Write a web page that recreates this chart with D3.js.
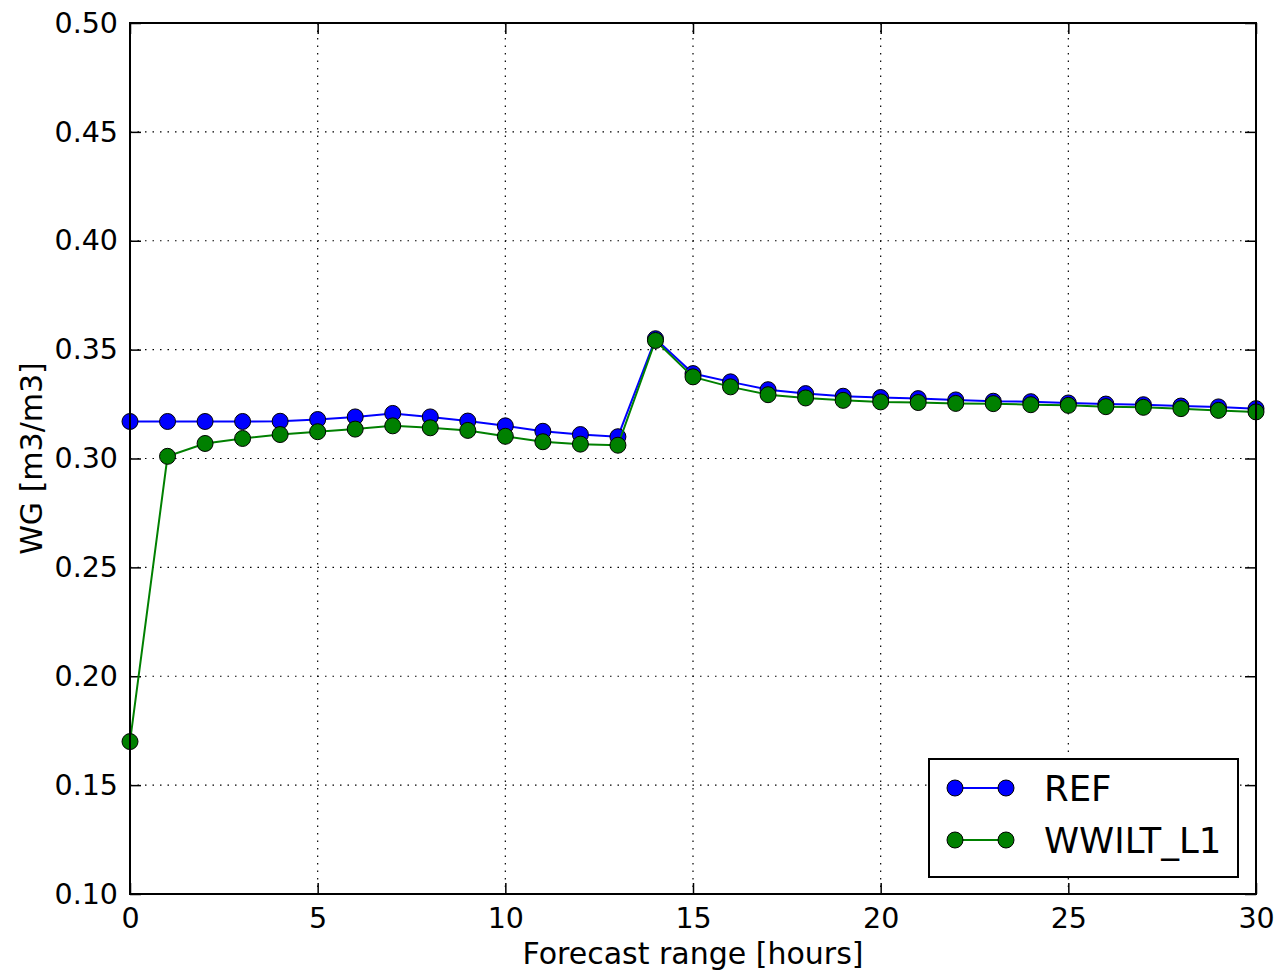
<!DOCTYPE html>
<html>
<head>
<meta charset="utf-8">
<script src="https://cdn.jsdelivr.net/npm/d3@7"></script>
<style>
    html, body { margin: 0; padding: 0; background: #fff; }
    text { font-family: "DejaVu Sans", sans-serif; fill: #000; }
</style>
</head>
<body>
<div id="chart"></div>
<script>
// forecast hours
const hours = d3.range(0, 31);

const refValues = [
    0.3170, 0.3170, 0.3170, 0.3170, 0.3171, 0.3179, 0.3191, 0.3207, 0.3191, 0.3172,
    0.3150, 0.3125, 0.3110, 0.3100, 0.3550, 0.3390, 0.3352, 0.3316, 0.3298, 0.3286,
    0.3280, 0.3275, 0.3269, 0.3263, 0.3261, 0.3255, 0.3250, 0.3247, 0.3241, 0.3237,
    0.3229
];

const wwiltValues = [
    0.1700, 0.3010, 0.3069, 0.3092, 0.3110, 0.3123, 0.3135, 0.3150, 0.3141, 0.3129,
    0.3102, 0.3077, 0.3066, 0.3061, 0.3542, 0.3375, 0.3329, 0.3293, 0.3278, 0.3267,
    0.3260, 0.3257, 0.3253, 0.3252, 0.3247, 0.3244, 0.3238, 0.3235, 0.3229, 0.3221,
    0.3214
];

const seriesNames = ['REF', 'WWILT_L1'];
const seriesColors = ['#0000ff', '#008000'];
const xTicks = [0, 5, 10, 15, 20, 25, 30];
const yTicks = [0.10, 0.15, 0.20, 0.25, 0.30, 0.35, 0.40, 0.45, 0.50];

const width = 1278, height = 974;
const margin = { left: 130, right: 22, top: 23, bottom: 80 };
const plotW = width - margin.left - margin.right;
const plotH = height - margin.top - margin.bottom;

const svg = d3.select('#chart').append('svg')
    .attr('width', width)
    .attr('height', height);

const x = d3.scaleLinear().domain([0, 30]).range([margin.left, margin.left + plotW]);
const y = d3.scaleLinear().domain([0.10, 0.50]).range([margin.top + plotH, margin.top]);

// grid
const grid = svg.append('g');
grid.selectAll('.vg').data(xTicks.slice(1, -1)).enter().append('line')
    .attr('x1', d => x(d)).attr('x2', d => x(d))
    .attr('y1', margin.top).attr('y2', margin.top + plotH)
    .attr('stroke', '#000').attr('stroke-width', 1.2)
    .attr('stroke-dasharray', '1.5,6');
grid.selectAll('.hg').data(yTicks.slice(1, -1)).enter().append('line')
    .attr('x1', margin.left).attr('x2', margin.left + plotW)
    .attr('y1', d => y(d)).attr('y2', d => y(d))
    .attr('stroke', '#000').attr('stroke-width', 1.2)
    .attr('stroke-dasharray', '1.5,6');

// axes
const tickLen = 11;
const xAxisB = d3.axisBottom(x).tickValues(xTicks).tickFormat(d3.format('d'))
    .tickSizeInner(-tickLen).tickSizeOuter(0).tickPadding(14);
const xAxisT = d3.axisTop(x).tickValues(xTicks).tickFormat('')
    .tickSizeInner(-tickLen).tickSizeOuter(0);
const yAxisL = d3.axisLeft(y).tickValues(yTicks).tickFormat(d3.format('.2f'))
    .tickSizeInner(-tickLen).tickSizeOuter(0).tickPadding(12);
const yAxisR = d3.axisRight(y).tickValues(yTicks).tickFormat('')
    .tickSizeInner(-tickLen).tickSizeOuter(0);

function styleAxis(g) {
    g.select('.domain').remove();
    g.selectAll('.tick line').attr('stroke', '#000').attr('stroke-width', 1.5);
    g.selectAll('.tick text').style('font-size', '28.5px').attr('fill', '#000');
}

svg.append('g').attr('transform', `translate(0,${margin.top + plotH})`).call(xAxisB).call(styleAxis);
svg.append('g').attr('transform', `translate(0,${margin.top})`).call(xAxisT).call(styleAxis);
svg.append('g').attr('transform', `translate(${margin.left},0)`).call(yAxisL).call(styleAxis);
svg.append('g').attr('transform', `translate(${margin.left + plotW},0)`).call(yAxisR).call(styleAxis);

// series
const allSeries = [refValues, wwiltValues];
const line = d3.line().x((d, i) => x(hours[i])).y(d => y(d));

allSeries.forEach((vals, si) => {
    const g = svg.append('g');
    g.append('path')
        .datum(vals)
        .attr('d', line)
        .attr('fill', 'none')
        .attr('stroke', seriesColors[si])
        .attr('stroke-width', 2);
    g.selectAll('circle').data(vals).enter().append('circle')
        .attr('cx', (d, i) => x(hours[i]))
        .attr('cy', d => y(d))
        .attr('r', 8)
        .attr('fill', seriesColors[si])
        .attr('stroke', '#000')
        .attr('stroke-width', 1);
});

// frame
svg.append('rect')
    .attr('x', margin.left).attr('y', margin.top)
    .attr('width', plotW).attr('height', plotH)
    .attr('fill', 'none').attr('stroke', '#000').attr('stroke-width', 2);

// axis labels
svg.append('text')
    .attr('x', margin.left + plotW / 2)
    .attr('y', 964)
    .attr('text-anchor', 'middle')
    .style('font-size', '30px')
    .text('Forecast range [hours]');

svg.append('text')
    .attr('transform', `translate(42,${margin.top + plotH / 2}) rotate(-90)`)
    .attr('text-anchor', 'middle')
    .style('font-size', '30px')
    .text('WG [m3/m3]');

// legend
const legend = svg.append('g');
legend.append('rect')
    .attr('x', 929).attr('y', 759)
    .attr('width', 309).attr('height', 118)
    .attr('fill', '#fff').attr('stroke', '#000').attr('stroke-width', 2);

seriesNames.forEach((name, i) => {
    const ly = 788 + i * 52;
    legend.append('line')
        .attr('x1', 955).attr('x2', 1006)
        .attr('y1', ly).attr('y2', ly)
        .attr('stroke', seriesColors[i]).attr('stroke-width', 2);
    [955, 1006].forEach(cx => {
        legend.append('circle')
            .attr('cx', cx).attr('cy', ly).attr('r', 8)
            .attr('fill', seriesColors[i])
            .attr('stroke', '#000').attr('stroke-width', 1);
    });
    legend.append('text')
        .attr('x', 1044).attr('y', ly)
        .attr('dy', '0.36em')
        .style('font-size', '35.5px')
        .text(name);
});
</script>
</body>
</html>
